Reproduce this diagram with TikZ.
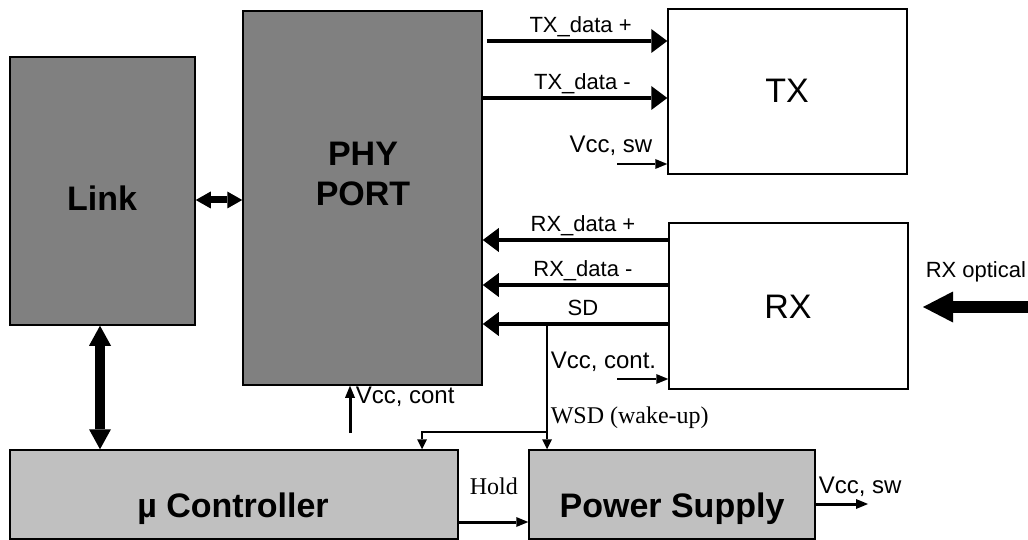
\documentclass[tikz,border=0pt]{standalone}
\usepackage{fontspec}
\setmainfont{Liberation Sans}
\newfontfamily\timesfont{Liberation Serif}
\usetikzlibrary{arrows.meta,positioning,calc}
\definecolor{boxdark}{HTML}{808080}
\definecolor{boxlight}{HTML}{C0C0C0}

\begin{document}
\begin{tikzpicture}[
  x=1pt, y=-1pt,
  line width=1.5pt,
  darkbox/.style={rectangle, draw=black, fill=boxdark, inner sep=0pt},
  lightbox/.style={rectangle, draw=black, fill=boxlight, inner sep=0pt},
  whitebox/.style={rectangle, draw=black, fill=white, inner sep=0pt},
  bigtxt/.style={font=\bfseries\fontsize{34}{40}\selectfont, align=center, inner sep=0pt},
  midtxt/.style={font=\fontsize{34}{40}\selectfont, inner sep=0pt},
  lbl/.style={font=\fontsize{22}{26}\selectfont, inner sep=0pt, text depth=0pt},
  vcclbl/.style={font=\fontsize{24}{28}\selectfont, inner sep=0pt},
  seriflbl/.style={font=\timesfont\fontsize{24}{28}\selectfont, inner sep=0pt},
  datalink/.style={line width=3.3pt, -{Triangle[length=16pt,width=24pt,line width=0pt]}},
  busarrow/.style={line width=7pt, {Triangle[length=15pt,width=17pt,line width=0pt]}-{Triangle[length=15pt,width=17pt,line width=0pt]}},
  vbus/.style={line width=10pt, {Triangle[length=20pt,width=22pt,line width=0pt]}-{Triangle[length=20pt,width=22pt,line width=0pt]}},
  optical/.style={line width=12pt, -{Triangle[length=30pt,width=31pt,line width=0pt]}},
  vccline/.style={line width=2.6pt, -{Triangle[length=12pt,width=10pt,line width=0pt]}},
  supply/.style={line width=3pt, -{Triangle[length=12pt,width=10pt,line width=0pt]}},
  wake/.style={line width=2.6pt, -{Triangle[length=10pt,width=10pt,line width=0pt]}}
]
  \useasboundingbox (0,0) rectangle (1028,540);

  \node[darkbox, minimum width=185pt, minimum height=268pt] (link) at (102.5,191) {};
  \node[darkbox, minimum width=239pt, minimum height=374pt] (phy) at (362.5,198) {};
  \node[whitebox, minimum width=239pt, minimum height=165pt] (tx) at (787.5,91.5) {};
  \node[whitebox, minimum width=239pt, minimum height=166pt] (rx) at (788.5,306) {};
  \node[lightbox, minimum width=448pt, minimum height=89pt] (ctrl) at (234,494.5) {};
  \node[lightbox, minimum width=286pt, minimum height=89pt] (ps) at (672,494.5) {};

  \node[bigtxt, anchor=base] (linktext) at (102,211) {Link};
  \node[bigtxt] (phytext) at (363,174) {PHY\\PORT};
  \node[midtxt, anchor=base] (txtext) at (787,103) {TX};
  \node[midtxt, anchor=base] (rxtext) at (788,318) {RX};
  \node[bigtxt, anchor=base] (ctrltext) at (233,517) {µ Controller};
  \node[bigtxt, anchor=base] (pstext) at (672,517) {Power Supply};

  \draw[busarrow] (link.east |- 0,200) -- (phy.west |- 0,200);
  \draw[vbus] (link.south -| 100,0) -- (ctrl.north -| 100,0);

  \draw[datalink] ($(phy.east |- 0,41)+(4,0)$) -- node[lbl, pos=0.52, above=7pt] {TX\_data +} (tx.west |- 0,41);
  \draw[datalink] (phy.east |- 0,98) -- node[lbl, pos=0.54, above=7pt] {TX\_data -} (tx.west |- 0,98);
  \draw[datalink] (rx.west |- 0,240) -- node[lbl, pos=0.46, above=7pt] {RX\_data +} (phy.east |- 0,240);
  \draw[datalink] (rx.west |- 0,285) -- node[lbl, pos=0.46, above=7pt] {RX\_data -} (phy.east |- 0,285);
  \draw[datalink] (rx.west |- 0,324) -- node[lbl, pos=0.46, above=7pt] {SD} (phy.east |- 0,324);

  \coordinate (txvcc) at (617,164);
  \draw[vccline] (txvcc) -- (tx.west |- txvcc);
  \node[vcclbl, anchor=base east] (txvcclbl) at (653,153) {Vcc, sw};

  \coordinate (rxvcc) at (617,379);
  \draw[vccline] (rxvcc) -- (rx.west |- rxvcc);
  \node[vcclbl, anchor=base west] (rxvcclbl) at (550,368) {Vcc, cont.};

  \coordinate (phyvcc) at (350,433);
  \draw[supply] (phyvcc) -- (phyvcc |- phy.south);
  \node[vcclbl, anchor=base west] (phyvcclbl) at (355,403) {Vcc, cont};

  \coordinate (sdtap) at (547,324);
  \draw[wake] (sdtap) -- (sdtap |- ps.north);
  \coordinate (wsdtap) at (547,432);
  \draw[wake] (wsdtap) -| (ctrl.north -| 422,0);
  \node[seriflbl, anchor=base west] (wsdlbl) at (550,423) {WSD (wake-up)};

  \draw[supply] (ctrl.east |- 0,522) -- (ps.west |- 0,522);
  \node[seriflbl, anchor=base west] (holdlbl) at (469,494) {Hold};

  \coordinate (psout) at (868,504);
  \draw[supply] (ps.east |- psout) -- (psout);
  \node[vcclbl, anchor=base west] (psvcclbl) at (818,493) {Vcc, sw};

  \coordinate (optsrc) at (1028,307);
  \coordinate (opttip) at (923,307);
  \draw[optical] (optsrc) -- (opttip);
  \node[lbl, anchor=base west] (optlbl) at (925,277) {RX optical};
\end{tikzpicture}
\end{document}
